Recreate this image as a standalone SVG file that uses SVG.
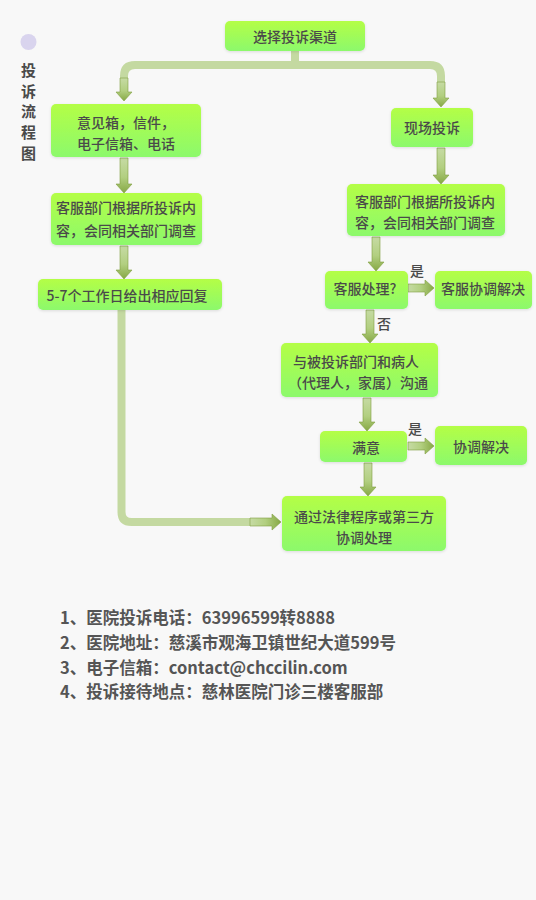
<svg xmlns="http://www.w3.org/2000/svg" width="536" height="900" viewBox="0 0 536 900">
<defs>
<linearGradient id="nodeGrad" x1="0" y1="0" x2="0" y2="1">
<stop offset="0" stop-color="#b4fe46"/>
<stop offset="1" stop-color="#8cf96c"/>
</linearGradient>
<linearGradient id="arrV" x1="0" y1="0" x2="0" y2="1">
<stop offset="0" stop-color="#c6dba4"/>
<stop offset="0.55" stop-color="#b2cf80"/>
<stop offset="1" stop-color="#86a844"/>
</linearGradient>
<linearGradient id="arrH" x1="0" y1="0" x2="1" y2="0">
<stop offset="0" stop-color="#c6dba4"/>
<stop offset="0.5" stop-color="#b2cf80"/>
<stop offset="1" stop-color="#86a844"/>
</linearGradient>
<filter id="glow" x="-10%" y="-20%" width="120%" height="140%">
<feGaussianBlur in="SourceAlpha" stdDeviation="1.5"/>
<feOffset dx="0" dy="1"/>
<feComponentTransfer><feFuncA type="linear" slope="0.12"/></feComponentTransfer>
<feMerge><feMergeNode/><feMergeNode in="SourceGraphic"/></feMerge>
</filter>
</defs>
<style>
.node rect{fill:url(#nodeGrad);filter:url(#glow)}
.t{font-family:"Noto Sans CJK SC","Liberation Sans",sans-serif;font-size:14px;fill:#4a4a4a;font-weight:500;text-anchor:middle;dominant-baseline:central}
.lbl{font-family:"Noto Sans CJK SC","Liberation Sans",sans-serif;font-size:14px;fill:#4a4a4a;font-weight:500;dominant-baseline:central}
.info{font-family:"Noto Sans CJK SC","Liberation Sans",sans-serif;font-size:16.5px;fill:#555;font-weight:700;dominant-baseline:central}
.side{font-family:"Noto Sans CJK SC","Liberation Sans",sans-serif;font-size:15px;fill:#4a4a4a;font-weight:700;text-anchor:middle;dominant-baseline:central}
.bar{fill:none;stroke:#c4d9a1;stroke-width:8}
.av{fill:url(#arrV);stroke:#7f9f42;stroke-width:0.6}
.ah{fill:url(#arrH);stroke:#7f9f42;stroke-width:0.6}
</style>
<rect x="0" y="0" width="536" height="900" fill="#f8f8f8"/>

<g id="sidebar">
<circle cx="28.5" cy="42" r="8" fill="#d9d4ee"/>
<text class="side" x="28.5" y="69">投</text>
<text class="side" x="28.5" y="90">诉</text>
<text class="side" x="28.5" y="110">流</text>
<text class="side" x="28.5" y="131">程</text>
<text class="side" x="28.5" y="152">图</text>
</g>

<g id="connectors">
<path class="bar" d="M295,51 V65"/>
<path class="bar" d="M124,82 V76 Q124,65 135,65 H430 Q441,65 441,76 V86"/>
<path class="bar" d="M121.5,310 V512 Q121.5,522 131.5,522 H256"/>
<polygon class="av" points="120,78 128,78 128,92 132,92 124,101 116,92 120,92"/>
<polygon class="av" points="437,82 445,82 445,98 449,98 441,107 433,98 437,98"/>
<polygon class="av" points="120,158 128,158 128,184 132,184 124,193 116,184 120,184"/>
<polygon class="av" points="120,246 128,246 128,270 132,270 124,279 116,270 120,270"/>
<polygon class="av" points="437,148 445,148 445,175 449,175 441,184 433,175 437,175"/>
<polygon class="av" points="372,237 380,237 380,262 384,262 376,271 368,262 372,262"/>
<polygon class="av" points="366,310 374,310 374,334 378,334 370,343 362,334 366,334"/>
<polygon class="av" points="363,398 371,398 371,422 375,422 367,431 359,422 363,422"/>
<polygon class="av" points="364,463 372,463 372,487 376,487 368,496 360,487 364,487"/>
<polygon class="ah" points="408,284 425,284 425,280 434,288 425,296 425,292 408,292"/>
<polygon class="ah" points="408,442 425,442 425,438 434,446 425,454 425,450 408,450"/>
<polygon class="ah" points="250,518 272,518 272,514 281,522 272,530 272,526 250,526"/>
<text class="lbl" x="410" y="270">是</text>
<text class="lbl" x="377" y="323">否</text>
<text class="lbl" x="408" y="428">是</text>
</g>

<g id="n1" class="node"><rect x="225" y="21" width="140" height="30" rx="5"/><text class="t" x="295" y="36">选择投诉渠道</text></g>
<g id="n2" class="node"><rect x="51" y="104" width="150" height="53" rx="5"/><text class="t" x="126" y="122">意见箱，信件，</text><text class="t" x="126" y="143">电子信箱、电话</text></g>
<g id="n3" class="node"><rect x="391" y="108" width="82" height="39" rx="5"/><text class="t" x="432" y="127">现场投诉</text></g>
<g id="n4" class="node"><rect x="51" y="193" width="151" height="52" rx="5"/><text class="t" x="126" y="207">客服部门根据所投诉内</text><text class="t" x="126" y="230">容，会同相关部门调查</text></g>
<g id="n5" class="node"><rect x="347" y="184" width="158" height="52" rx="5"/><text class="t" x="425" y="201">客服部门根据所投诉内</text><text class="t" x="425" y="222">容，会同相关部门调查</text></g>
<g id="n6" class="node"><rect x="38" y="279" width="184" height="31" rx="5"/><text class="t" x="127" y="295">5-7个工作日给出相应回复</text></g>
<g id="n7" class="node"><rect x="325" y="271" width="83" height="38" rx="5"/><text class="t" x="365" y="288">客服处理?</text></g>
<g id="n8" class="node"><rect x="435" y="271" width="97" height="38" rx="5"/><text class="t" x="483" y="288">客服协调解决</text></g>
<g id="n9" class="node"><rect x="281" y="343" width="157" height="54" rx="5"/><text class="t" x="356" y="361">与被投诉部门和病人</text><text class="t" x="358" y="382">（代理人，家属）沟通</text></g>
<g id="n10" class="node"><rect x="320" y="431" width="87" height="31" rx="5"/><text class="t" x="366" y="447">满意</text></g>
<g id="n11" class="node"><rect x="435" y="426" width="92" height="39" rx="5"/><text class="t" x="481" y="446">协调解决</text></g>
<g id="n12" class="node"><rect x="282" y="496" width="164" height="55" rx="5"/><text class="t" x="364" y="516">通过法律程序或第三方</text><text class="t" x="364" y="537">协调处理</text></g>

<g id="info">
<text class="info" x="60" y="617">1、医院投诉电话：63996599转8888</text>
<text class="info" x="60" y="642">2、医院地址：慈溪市观海卫镇世纪大道599号</text>
<text class="info" x="60" y="667">3、电子信箱：contact@chccilin.com</text>
<text class="info" x="60" y="691">4、投诉接待地点：慈林医院门诊三楼客服部</text>
</g>
</svg>
